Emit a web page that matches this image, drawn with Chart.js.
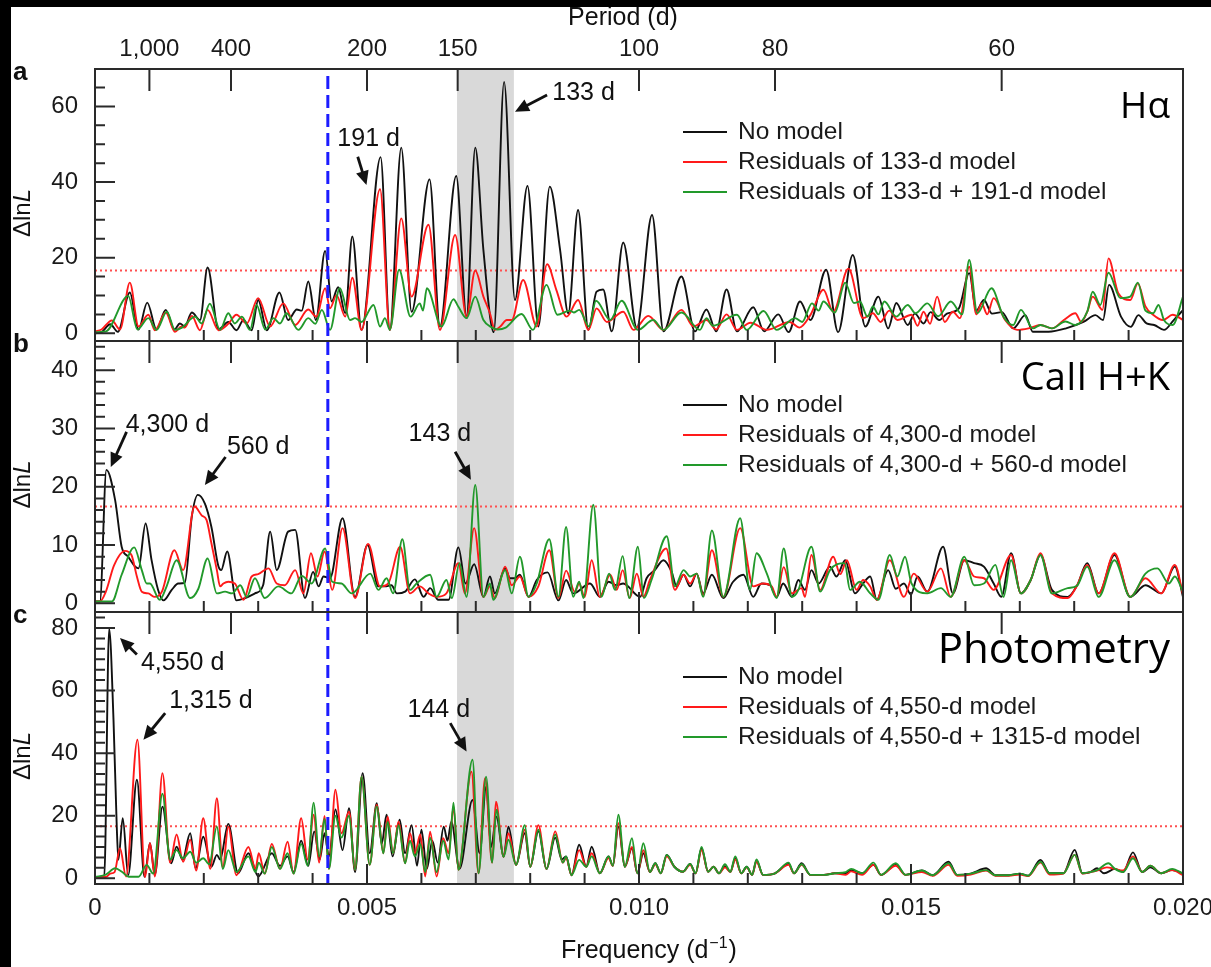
<!DOCTYPE html>
<html>
<head>
<meta charset="utf-8">
<script src="https://cdn.jsdelivr.net/npm/chart.js@4.4.1/dist/chart.umd.min.js"></script>
<style>
  html, body { margin: 0; padding: 0; background: #fff; }
  #page { position: relative; width: 1211px; height: 967px; overflow: hidden; background: #fff; }
  #page canvas { position: absolute; left: 0; top: 0; }
  .bar { position: absolute; background: #000; z-index: 5; }
</style>
</head>
<body>
<div id="page">
  <canvas id="panelA" width="1240" height="967"></canvas>
  <canvas id="panelB" width="1240" height="967"></canvas>
  <canvas id="panelC" width="1240" height="967"></canvas>
  <div class="bar" style="left:0;top:0;width:1211px;height:7px"></div>
  <div class="bar" style="left:0;top:0;width:11px;height:967px"></div>
</div>
<script>
// frequencies are in units of 1e-3 d^-1
const periodTicks = [1000, 400, 200, 150, 100, 80, 60];
const freqTicks = [0, 5, 10, 15, 20];
const freqTickLabels = ['0', '0.005', '0.010', '0.015', '0.020'];
const threshold = 16.6;
const blueLineFreq = 4.28;
const bandFreq = [6.655, 7.70];

// panel a: H-alpha
const haNoModel = [[0,0],[0.12,0.3],[0.28,2.4],[0.42,0.4],[0.64,10.8],[0.8,1],[0.96,8.1],[1.13,1],[1.3,6.2],[1.46,1],[1.56,2.6],[1.65,1.8],[1.78,5.5],[1.93,3.5],[2.07,17.4],[2.27,1],[2.45,3],[2.6,0.8],[2.73,3.5],[2.88,0.8],[3.0,8.8],[3.16,0.8],[3.39,10.8],[3.55,3.5],[3.71,6.3],[3.8,6],[3.92,13.7],[4.06,3.5],[4.23,21.8],[4.35,8.4],[4.47,12.2],[4.6,5.3],[4.73,25.6],[4.9,0.9],[5.25,46.6],[5.42,0.9],[5.63,49.1],[5.82,5.7],[6.15,40.7],[6.34,1.8],[6.64,41.6],[6.83,4.4],[6.99,49.1],[7.14,22],[7.33,0.3],[7.52,66.5],[7.72,8.8],[7.95,39],[8.15,1.8],[8.36,38.8],[8.55,22],[8.7,5.3],[8.88,32.6],[9.07,0.9],[9.22,11],[9.34,11.6],[9.5,0.5],[9.71,24],[9.96,1.5],[10.24,31.3],[10.45,0.5],[10.78,15],[11.03,0.5],[11.24,6.3],[11.42,0.5],[11.61,11.6],[11.8,0.5],[12.1,6.9],[12.3,0.5],[12.56,5],[12.75,0.3],[12.96,8.4],[13.15,3.5],[13.44,16.8],[13.66,0.3],[13.93,20.7],[14.16,1.8],[14.4,9.7],[14.58,1.3],[14.73,8],[14.94,2.2],[15.07,5.2],[15.23,2.6],[15.36,5.6],[15.52,3.5],[15.66,5.2],[15.88,6.6],[16.07,15.9],[16.2,6],[16.34,8.8],[16.49,5.2],[16.67,5.6],[16.88,1.3],[17.1,4.8],[17.24,0.4],[17.53,0.4],[17.85,1.3],[18.17,3],[18.39,4.8],[18.53,3.5],[18.64,12.8],[18.86,4.4],[19.04,1.7],[19.18,4.8],[19.33,2.6],[19.47,2.2],[19.65,0.9],[19.83,3.5],[20,6.1]];
const haRes133 = [[0,0.5],[0.12,1],[0.31,3.4],[0.46,1],[0.64,13.4],[0.8,1.8],[0.98,4.9],[1.1,0.8],[1.3,5.5],[1.47,0.4],[1.59,1.8],[1.65,1.5],[1.78,4.6],[1.93,0.8],[2.07,6.2],[2.27,0.8],[2.45,2.5],[2.6,4.9],[2.79,2.6],[3.0,9.3],[3.22,1.8],[3.46,7.9],[3.68,2.2],[3.92,6.3],[4.07,4.4],[4.23,11.9],[4.32,6.6],[4.44,10.1],[4.6,4.4],[4.73,14.7],[4.9,0.9],[5.24,38.1],[5.42,0.9],[5.63,30.4],[5.82,9.7],[6.13,28.7],[6.34,0.9],[6.62,26],[6.83,4.4],[6.99,16.6],[7.14,9.7],[7.26,5.3],[7.35,0.9],[7.45,1.8],[7.57,3.5],[7.66,3.5],[7.87,14.1],[8.12,1.8],[8.31,18.3],[8.48,11.5],[8.67,4.4],[8.88,8.8],[9.07,0.9],[9.22,6.6],[9.41,3],[9.71,5.7],[9.9,0.9],[10.17,4.6],[10.45,0.9],[10.78,6.2],[11.0,1.8],[11.24,3.5],[11.42,1],[11.61,5],[11.8,0.9],[12.05,2.8],[12.35,0.9],[12.77,3],[12.95,1.5],[13.15,4.8],[13.39,11.5],[13.57,5.7],[13.85,17.1],[14.12,4],[14.3,5.3],[14.44,3],[14.6,6],[14.75,3.5],[15.01,4.9],[15.12,2],[15.23,5.7],[15.35,2.5],[15.48,9.7],[15.62,3],[15.77,5.7],[15.9,4],[16.07,17.6],[16.2,5],[16.3,7.9],[16.4,5],[16.52,9.3],[16.73,3.5],[16.95,0.9],[17.16,1.3],[17.38,2.2],[17.59,1.3],[17.81,3.5],[18.02,5.3],[18.13,3],[18.24,5.7],[18.34,9.7],[18.52,6.2],[18.63,19.8],[18.81,10.6],[19.03,8.8],[19.17,13.2],[19.31,7.1],[19.45,4.9],[19.63,3.5],[19.81,4.9],[20,3.5]];
const haRes133_191 = [[0,0.3],[0.2,0.5],[0.61,9.9],[0.78,1],[0.98,4],[1.13,0.9],[1.32,5.7],[1.47,0.9],[1.6,1.5],[1.84,4.4],[1.96,2.6],[2.11,7.8],[2.3,0.9],[2.45,5.3],[2.57,2.6],[2.7,4.4],[2.85,0.9],[2.97,7.5],[3.13,1],[3.28,4],[3.4,2.6],[3.52,5.3],[3.74,0.9],[3.92,4],[4.05,2.5],[4.17,6.2],[4.32,0.9],[4.5,11.9],[4.69,3.5],[4.78,4],[4.9,3],[5.12,7.5],[5.24,1.8],[5.33,4],[5.42,0.9],[5.59,16.8],[5.8,4.4],[5.97,7.9],[6.03,6],[6.1,11.9],[6.37,1.8],[6.59,9],[6.68,7],[6.83,4],[6.99,9.7],[7.14,3.5],[7.3,1.5],[7.4,1],[7.55,1.5],[7.84,5.1],[8.05,0.9],[8.3,12.8],[8.5,4.9],[8.73,6],[8.8,5.5],[8.9,6.2],[9.08,1.8],[9.21,8.6],[9.47,3.5],[9.68,8.6],[9.98,0.9],[10.26,3.5],[10.45,0.9],[10.78,5.5],[11.12,0.9],[11.24,4],[11.36,2],[11.8,4.9],[11.98,0.9],[12.29,5.9],[12.53,0.9],[12.87,4],[13.0,3],[13.18,7.9],[13.3,6],[13.39,8.4],[13.6,5.5],[13.79,13.4],[13.95,8],[14.06,8.4],[14.2,4.4],[14.3,7.1],[14.4,5],[14.51,8.4],[14.73,4.4],[14.94,7.5],[15.08,5.3],[15.3,7.9],[15.5,4.5],[15.73,8.4],[15.94,5],[16.07,19.4],[16.22,5.3],[16.48,11.9],[16.7,4.4],[16.88,2.2],[17.02,6.2],[17.24,1.3],[17.38,2.2],[17.59,1.3],[17.84,3.1],[18.02,2.2],[18.24,5.7],[18.34,11],[18.48,7.5],[18.63,16],[18.85,9.3],[19.03,9.7],[19.17,13.4],[19.31,6],[19.45,5.3],[19.55,7.5],[19.65,3.5],[19.81,2.2],[20,9.7]];

// panel b: CaII H+K
const caNoModel = [[0,0.3],[0.09,0.3],[0.21,22.9],[0.37,17.7],[0.49,9.7],[0.61,8],[0.74,6.3],[0.8,6],[0.93,13.7],[1.04,7.4],[1.16,2.3],[1.26,0.5],[1.41,2.3],[1.53,3.4],[1.65,3.5],[1.78,14.9],[1.89,18.6],[2.02,17.1],[2.14,13.1],[2.27,6.3],[2.32,5.7],[2.43,8.9],[2.6,0.5],[2.76,0.9],[2.94,1.7],[3.09,3.1],[3.22,12.3],[3.34,5.7],[3.55,12.3],[3.68,12.6],[3.86,0.9],[4.01,5.4],[4.11,2.9],[4.2,4.6],[4.32,4.3],[4.55,14.6],[4.78,1.1],[5.01,10],[5.21,2.9],[5.33,2.9],[5.45,3.1],[5.55,1.7],[5.7,2],[5.88,4.1],[6.04,1.1],[6.16,2.6],[6.31,0.6],[6.5,0.6],[6.68,9.6],[6.81,3.4],[6.97,6.7],[7.14,1.1],[7.26,4.6],[7.35,1.7],[7.54,6],[7.63,4.3],[7.72,4.3],[7.81,4.9],[7.97,1.1],[8.12,4],[8.32,5.3],[8.52,0.5],[8.66,4],[8.79,1.7],[9.1,3.4],[9.28,1.1],[9.44,3.7],[9.59,3.1],[9.71,3.4],[10.02,1.1],[10.14,4.3],[10.29,5.7],[10.45,7.4],[10.6,5.4],[10.69,2.9],[10.82,4.9],[10.94,2.9],[11.06,5.1],[11.18,1.7],[11.34,4.9],[11.55,0.9],[11.73,3.7],[11.92,4.9],[12.1,1.1],[12.25,3.4],[12.41,3.1],[12.53,1.1],[12.65,3.4],[12.81,1.1],[12.93,4],[13.05,2.3],[13.17,5.7],[13.3,3.4],[13.51,6.3],[13.63,4.6],[13.79,7.4],[13.97,1.7],[14.12,3.4],[14.25,4.6],[14.37,0.6],[14.58,5.7],[14.72,2.5],[14.87,3.4],[15.0,1.5],[15.12,4.6],[15.3,2],[15.59,9.7],[15.77,1.7],[15.98,7.4],[16.16,6.9],[16.34,6.3],[16.52,3.4],[16.66,1.1],[16.84,8.6],[17.02,1.7],[17.2,4],[17.38,8.3],[17.59,2.3],[17.88,1.1],[18.05,3],[18.24,6.9],[18.45,1.7],[18.74,8.3],[19.03,1.1],[19.31,3.1],[19.6,1.7],[19.85,6.3],[20,1.1]];
const caRes4300 = [[0,0.3],[0.09,0.3],[0.2,2],[0.35,6.5],[0.55,9],[0.67,8.3],[0.77,4.6],[0.86,2],[0.98,1.7],[1.1,1.1],[1.23,2],[1.46,9.1],[1.62,5.7],[1.83,16.6],[1.96,15.1],[2.05,14.3],[2.14,10.3],[2.24,5.7],[2.3,2.9],[2.36,3.4],[2.45,3.7],[2.57,3.4],[2.73,0.6],[2.88,4.6],[3.0,5],[3.19,6],[3.34,3.4],[3.49,3.1],[3.68,5.7],[3.83,1.7],[3.97,8.6],[4.09,4.6],[4.22,8.9],[4.36,2.3],[4.55,12.9],[4.78,0.9],[5.02,10.2],[5.24,2.9],[5.39,3.4],[5.61,9.7],[5.79,1.7],[5.97,2.9],[6.13,1.7],[6.28,1.1],[6.46,1.7],[6.68,6.9],[6.8,1.7],[6.97,12.9],[7.14,1.1],[7.26,2.9],[7.35,0.9],[7.54,6.3],[7.66,3.1],[7.81,4.6],[7.97,1.1],[8.15,2.9],[8.35,9.1],[8.52,0.9],[8.66,5.6],[8.82,2],[8.9,3.4],[9.0,1.1],[9.13,7.4],[9.28,1.1],[9.47,4.9],[9.59,2.3],[9.7,5.7],[9.83,0.9],[9.96,5.1],[10.08,1.1],[10.2,4],[10.5,9.4],[10.66,2.3],[10.82,4.9],[10.94,3.4],[11.06,5.1],[11.18,1.4],[11.34,9.1],[11.55,1.1],[11.86,12.9],[12.1,2.9],[12.28,3.4],[12.44,2.9],[12.53,1.1],[12.66,6.2],[12.81,1.7],[12.99,2.6],[13.05,1.1],[13.17,8.3],[13.33,2.3],[13.57,8],[13.7,5],[13.82,7.4],[14.0,2.3],[14.12,4],[14.25,2.9],[14.37,0.6],[14.61,7.4],[14.87,1.1],[15.05,5.1],[15.3,2],[15.55,6],[15.73,1.1],[15.98,7.4],[16.16,4.6],[16.34,4.3],[16.52,2.3],[16.84,8.3],[17.02,1.7],[17.2,4],[17.38,8.6],[17.59,1.7],[17.88,0.9],[18.05,3],[18.24,6.6],[18.45,1.7],[18.74,8.6],[19.03,1.1],[19.31,4.3],[19.6,1.7],[19.85,6.6],[20,1.5]];
const caRes4300_560 = [[0,0.3],[0.31,0.3],[0.49,4.9],[0.72,9.6],[0.86,5.7],[0.95,3.4],[1.01,3.4],[1.19,0.6],[1.32,3],[1.5,7.4],[1.75,0.9],[1.9,2.5],[2.07,7.7],[2.24,1.7],[2.39,2],[2.52,1.7],[2.67,3.1],[2.79,1.1],[2.94,4.3],[3.12,0.9],[3.37,2.9],[3.61,1.7],[3.8,4.7],[3.98,3.4],[4.23,9.4],[4.36,3.7],[4.53,3.4],[4.72,1.7],[5.06,5.1],[5.21,2.3],[5.36,4.3],[5.48,1.7],[5.65,11],[5.79,2.3],[5.91,3.4],[6.16,4.9],[6.28,1.1],[6.46,4],[6.56,0.9],[6.7,6.9],[6.83,1.1],[6.99,20.3],[7.14,1.1],[7.26,3.4],[7.32,0.6],[7.54,5.7],[7.66,1.7],[7.81,8],[7.97,1.1],[8.12,3.4],[8.35,11],[8.52,1.1],[8.66,13.1],[8.79,1.1],[8.9,3.7],[8.98,0.9],[9.16,16.9],[9.31,1.1],[9.45,5.1],[9.56,2.3],[9.7,8.1],[9.82,0.9],[9.98,9.7],[10.09,0.9],[10.23,4],[10.51,11.5],[10.66,2.9],[10.82,5.7],[10.94,4.6],[11.06,5.1],[11.18,1.1],[11.34,12.5],[11.55,1.1],[11.86,14.6],[12.04,2.3],[12.16,8.6],[12.35,5.1],[12.53,0.9],[12.66,9.4],[12.81,1.1],[12.93,2.3],[13.17,9.7],[13.33,2],[13.51,5.7],[13.78,6.9],[13.88,2.3],[14.06,3.7],[14.25,1.7],[14.4,0.6],[14.61,8.3],[14.75,4.6],[14.89,8],[15.01,3.4],[15.3,1.7],[15.55,2.6],[15.73,1.1],[15.98,8],[16.16,3.1],[16.34,3.4],[16.55,6.6],[16.7,1.1],[16.84,7.4],[17.02,1.7],[17.2,4],[17.38,8.3],[17.59,1.7],[17.88,2.6],[18.05,3],[18.24,6.3],[18.45,1.1],[18.74,7.4],[19.03,1.1],[19.31,5.1],[19.53,6],[19.74,3.4],[19.85,4.6],[20,2]];

// panel c: photometry
const phNoModel = [[0,0.4],[0.17,0.4],[0.26,79.7],[0.34,50.7],[0.4,16.5],[0.43,5.9],[0.51,19.2],[0.61,1],[0.77,31.5],[0.91,0.5],[1.01,11.2],[1.1,1.1],[1.24,22.9],[1.4,4.8],[1.5,10.1],[1.61,5.9],[1.75,14.4],[1.85,3.2],[1.99,13.3],[2.14,3.7],[2.24,7.5],[2.3,6],[2.45,17.4],[2.63,1.6],[2.82,8],[3.0,0.6],[3.25,8],[3.4,4],[3.54,7],[3.65,2],[3.79,12],[3.92,4],[4.03,15],[4.13,6],[4.22,14.4],[4.3,7],[4.42,22],[4.55,9],[4.67,22.4],[4.78,2],[4.92,33.6],[5.05,8],[5.18,24],[5.27,11],[5.36,20.3],[5.47,7],[5.6,18.7],[5.7,8],[5.82,17],[5.92,4],[6.0,15.5],[6.1,3],[6.2,12],[6.3,5],[6.41,16.5],[6.48,12],[6.55,18.1],[6.7,3],[6.94,25],[7.07,8],[7.19,29.3],[7.28,10],[7.38,19.7],[7.51,6.9],[7.6,16.5],[7.74,4.3],[7.9,14.4],[8.0,3.7],[8.15,15],[8.3,3],[8.46,13],[8.58,6],[8.66,7],[8.76,1],[8.9,10.7],[9.03,3.7],[9.13,10.1],[9.28,1.6],[9.44,7],[9.52,4],[9.62,16.5],[9.74,3.7],[9.87,9.6],[9.97,1.6],[10.08,8],[10.2,2],[10.3,4.8],[10.4,1.6],[10.51,7.5],[10.65,3.7],[10.81,2.1],[10.94,4.6],[11.04,1.6],[11.15,9.6],[11.27,2.1],[11.37,3.7],[11.47,1.6],[11.58,3.9],[11.68,2.1],[11.77,6.4],[11.88,1.6],[11.98,3.7],[12.08,1.1],[12.16,5.7],[12.28,1.1],[12.5,1.6],[12.75,4.6],[12.85,1.6],[12.99,4.8],[13.15,1.1],[13.4,1.1],[13.6,1.6],[13.8,1.6],[13.9,2.6],[14.1,1.6],[14.31,4.3],[14.45,1.1],[14.72,4.3],[14.9,1.1],[15.2,2.5],[15.4,1],[15.69,5.3],[15.85,1.1],[16.1,1.5],[16.38,3.2],[16.55,1],[16.8,1],[17.0,1.5],[17.15,0.8],[17.38,5.9],[17.55,1.6],[17.8,1.6],[18.01,9.1],[18.15,1.6],[18.3,2],[18.42,3.2],[18.55,1.6],[18.75,3],[18.9,2],[19.08,8.3],[19.25,2],[19.4,3.5],[19.6,1.6],[19.8,2.6],[20,1.5]];
const phRes4550 = [[0,0.4],[0.2,0.4],[0.28,1.5],[0.36,2],[0.46,9.6],[0.57,0.6],[0.78,44.3],[0.92,0.4],[1.01,11.2],[1.1,0.6],[1.24,33.6],[1.38,5],[1.5,14],[1.62,5.3],[1.75,12.3],[1.86,2.5],[1.99,19.2],[2.12,3],[2.24,25.6],[2.35,3.5],[2.45,16.5],[2.6,1],[2.82,10],[2.95,3],[3.01,8],[3.12,1.5],[3.25,11],[3.4,3],[3.54,11.7],[3.65,1.5],[3.79,19.2],[3.91,6],[4.02,20.3],[4.12,5],[4.22,19.9],[4.3,3],[4.42,28.3],[4.53,14.4],[4.67,21.3],[4.78,2.7],[4.9,32.5],[5.05,4.3],[5.18,23.5],[5.3,8],[5.38,19.7],[5.48,8],[5.58,18.1],[5.7,4.8],[5.79,14.4],[5.88,8],[5.98,14],[6.07,0.6],[6.16,14.9],[6.28,0.6],[6.4,12.8],[6.5,8],[6.59,22.9],[6.68,2.7],[6.92,34.1],[7.05,1.6],[7.17,32],[7.3,5],[7.37,24.5],[7.51,6.9],[7.6,14.4],[7.74,4.3],[7.9,15.5],[8.0,3.7],[8.15,17],[8.3,3],[8.46,15],[8.6,5],[8.66,6.5],[8.76,1],[8.9,9],[9.03,3.7],[9.13,8],[9.28,1.6],[9.44,6.5],[9.52,4],[9.62,17.6],[9.74,3.7],[9.87,10],[9.97,1.6],[10.08,9],[10.2,2],[10.3,4.5],[10.4,1.6],[10.51,7],[10.65,3.7],[10.81,2.1],[10.94,4.3],[11.04,1.6],[11.15,9],[11.27,2.1],[11.37,3.7],[11.47,1.6],[11.58,3.5],[11.68,2.1],[11.77,6],[11.88,1.6],[11.98,3.5],[12.08,1.1],[12.16,5.3],[12.28,1.1],[12.5,1.6],[12.75,4.3],[12.85,1.6],[12.99,4.3],[13.15,1.1],[13.4,1.1],[13.6,1.6],[13.8,1.1],[13.9,2.2],[14.1,1.1],[14.31,4.3],[14.45,1.1],[14.72,4],[14.9,1.1],[15.2,2],[15.4,0.8],[15.69,4.3],[15.85,0.8],[16.1,1.2],[16.38,2.5],[16.55,0.8],[16.8,0.8],[17.0,1.2],[17.15,0.7],[17.38,5],[17.55,1.2],[17.8,1.5],[18.01,7.5],[18.15,1.5],[18.3,2],[18.42,2.5],[18.6,3.5],[18.75,3],[18.9,2.5],[19.08,7],[19.25,2],[19.4,4],[19.6,1.6],[19.8,2.6],[20,1]];
const phRes4550_1315 = [[0,0.4],[0.2,1.2],[0.37,3.2],[0.5,2],[0.62,0.5],[0.8,0.5],[0.95,4.3],[1.07,1.5],[1.24,27],[1.38,6],[1.5,9],[1.62,6.4],[1.75,8.5],[1.86,5],[1.99,6.4],[2.1,4.5],[2.24,16.5],[2.35,3],[2.45,9],[2.6,2],[2.82,7],[2.95,2],[3.01,5],[3.12,1.5],[3.25,10],[3.4,3],[3.54,8],[3.65,1.5],[3.79,11],[3.91,4],[4.02,24.2],[4.12,7],[4.22,19],[4.3,3],[4.42,20],[4.53,13],[4.67,20],[4.78,2.7],[4.9,32.5],[5.05,4.3],[5.18,23],[5.3,8],[5.38,18],[5.48,8],[5.58,17],[5.7,4.8],[5.79,12],[5.88,7],[5.98,11],[6.07,2],[6.16,13],[6.28,2],[6.4,12],[6.5,6],[6.59,24.2],[6.68,2.7],[6.94,37.9],[7.05,1.6],[7.19,32.5],[7.3,5],[7.38,21.9],[7.51,6.9],[7.6,12.3],[7.74,4.3],[7.9,17],[8.0,3.7],[8.15,15.5],[8.3,3],[8.46,14],[8.6,5],[8.66,7],[8.76,1],[8.9,5.9],[9.03,3.7],[9.13,7],[9.28,1.6],[9.44,7],[9.52,4],[9.62,20.3],[9.74,3.7],[9.87,12.8],[9.97,1.6],[10.08,11.2],[10.2,2],[10.3,4.8],[10.4,1.6],[10.51,7.5],[10.65,3.7],[10.81,2.1],[10.94,4.6],[11.04,1.6],[11.15,10],[11.27,2.1],[11.37,3.7],[11.47,1.6],[11.58,4.5],[11.68,2.1],[11.77,7],[11.88,1.6],[11.98,3.7],[12.08,1.1],[12.16,6],[12.28,1.1],[12.5,1.6],[12.75,5],[12.85,1.6],[12.99,4.5],[13.15,1.1],[13.4,1.1],[13.6,1.6],[13.8,2],[13.9,3],[14.1,1.6],[14.31,5],[14.45,1.1],[14.72,4.8],[14.9,1.1],[15.2,2.5],[15.4,1],[15.69,4.8],[15.85,1.1],[16.1,1.5],[16.38,2.6],[16.55,1],[16.8,1],[17.0,1.5],[17.15,0.8],[17.38,5.3],[17.55,1.6],[17.8,1.6],[18.01,7.5],[18.15,1.6],[18.3,2],[18.42,2.6],[18.63,4.8],[18.75,3],[18.9,2],[19.08,6.4],[19.25,2],[19.4,4],[19.6,1.6],[19.8,3],[20,1.5]];

const BLACK = '#111111', RED = '#ff1a1a', GREEN = '#22992b';
const fontFamily = "'Liberation Sans', Arial, Helvetica, sans-serif";
Chart.defaults.font.family = fontFamily;
Chart.defaults.color = '#1a1a1a';

const panels = [
  {
    canvas: 'panelA', letter: 'a', name: 'H\u03b1', nameSize: 37, nameBaseline: 118,
    padTop: 3, padBottom: 626, yMin: -2.04, yMax: 69.9, yMajor: 20, minorN: 4,
    yTicks: [0, 20, 40, 60], legendY: 132, periodAxis: true, freqAxis: false,
    series: [
      { label: 'No model', points: haNoModel, color: BLACK },
      { label: 'Residuals of 133-d model', points: haRes133, color: RED },
      { label: 'Residuals of 133-d + 191-d model', points: haRes133_191, color: GREEN }
    ],
    notes: [
      { text: '191 d', at: [5.03, 51.4], from: [4.83, 46.7], to: [4.99, 39.2] },
      { text: '133 d', at: [8.98, 63.6], from: [8.31, 63], to: [7.72, 58.6] }
    ]
  },
  {
    canvas: 'panelB', letter: 'b', name: 'CaII H+K', nameSize: 38, nameBaseline: 390,
    padTop: 341, padBottom: 355, yMin: -1.49, yMax: 45.0, yMajor: 10, minorN: 5,
    yTicks: [0, 10, 20, 30, 40], legendY: 405, periodAxis: false, freqAxis: false,
    series: [
      { label: 'No model', points: caNoModel, color: BLACK },
      { label: 'Residuals of 4,300-d model', points: caRes4300, color: RED },
      { label: 'Residuals of 4,300-d + 560-d model', points: caRes4300_560, color: GREEN }
    ],
    notes: [
      { text: '4,300 d', at: [1.33, 30.6], from: [0.58, 29.4], to: [0.29, 23.4] },
      { text: '560 d', at: [3.0, 26.8], from: [2.4, 25.1], to: [2.02, 20.3] },
      { text: '143 d', at: [6.34, 29.0], from: [6.62, 26.0], to: [6.91, 21.2] }
    ]
  },
  {
    canvas: 'panelC', letter: 'c', name: 'Photometry', nameSize: 42, nameBaseline: 663,
    padTop: 612, padBottom: 8, yMin: -1.82, yMax: 85.1, yMajor: 20, minorN: 6,
    yTicks: [0, 20, 40, 60, 80], legendY: 677, periodAxis: false, freqAxis: true,
    series: [
      { label: 'No model', points: phNoModel, color: BLACK },
      { label: 'Residuals of 4,550-d model', points: phRes4550, color: RED },
      { label: 'Residuals of 4,550-d + 1315-d model', points: phRes4550_1315, color: GREEN }
    ],
    notes: [
      { text: '4,550 d', at: [1.61, 68.9], from: [0.77, 71.5], to: [0.46, 76.8] },
      { text: '1,315 d', at: [2.13, 56.7], from: [1.29, 52.8], to: [0.89, 44.3] },
      { text: '144 d', at: [6.32, 53.9], from: [6.53, 49.6], to: [6.83, 40.5] }
    ]
  }
];

function drawArrow(ctx, x1, y1, x2, y2) {
  const a = Math.atan2(y2 - y1, x2 - x1);
  const hl = 14, hw = 6.5;
  ctx.lineWidth = 2.8;
  ctx.beginPath();
  ctx.moveTo(x1, y1);
  ctx.lineTo(x2 - hl * 0.8 * Math.cos(a), y2 - hl * 0.8 * Math.sin(a));
  ctx.stroke();
  ctx.beginPath();
  ctx.moveTo(x2, y2);
  ctx.lineTo(x2 - hl * Math.cos(a) + hw * Math.sin(a), y2 - hl * Math.sin(a) - hw * Math.cos(a));
  ctx.lineTo(x2 - hl * Math.cos(a) - hw * Math.sin(a), y2 - hl * Math.sin(a) + hw * Math.cos(a));
  ctx.closePath();
  ctx.fill();
}

function decorations(p) {
  return {
    id: 'decor' + p.letter,
    beforeDatasetsDraw(chart) {
      const { ctx, chartArea: a, scales: { x, y } } = chart;
      ctx.save();
      const b0 = x.getPixelForValue(bandFreq[0]);
      const b1 = x.getPixelForValue(bandFreq[1]);
      ctx.fillStyle = '#d9d9d9';
      ctx.fillRect(b0, a.top, b1 - b0, a.bottom - a.top);
      const ty = y.getPixelForValue(threshold);
      ctx.strokeStyle = '#ff5050';
      ctx.lineWidth = 2;
      ctx.setLineDash([2, 3]);
      ctx.beginPath();
      ctx.moveTo(a.left, ty);
      ctx.lineTo(a.right, ty);
      ctx.stroke();
      ctx.restore();
    },
    afterDatasetsDraw(chart) {
      const { ctx, chartArea: a, scales: { x, y } } = chart;
      ctx.save();

      // blue dashed line, phase kept across panels
      const bx = x.getPixelForValue(blueLineFreq);
      ctx.strokeStyle = '#1c1cff';
      ctx.lineWidth = 3;
      ctx.setLineDash([13, 6]);
      ctx.lineDashOffset = a.top;
      ctx.beginPath();
      ctx.moveTo(bx, a.top);
      ctx.lineTo(bx, a.bottom);
      ctx.stroke();
      ctx.setLineDash([]);

      // frame and inward ticks
      ctx.strokeStyle = '#2a2a2a';
      ctx.lineWidth = 2;
      ctx.strokeRect(a.left, a.top, a.right - a.left, a.bottom - a.top);
      ctx.beginPath();
      const step = p.yMajor / p.minorN;
      for (let k = 0; k * step < p.yMax - 0.5; k++) {
        const ty = y.getPixelForValue(k * step);
        ctx.moveTo(a.left, ty);
        ctx.lineTo(a.left + (k % p.minorN === 0 ? 20 : 10), ty);
      }
      for (let i = 1; i < 20; i++) {
        const tx = x.getPixelForValue(i);
        ctx.moveTo(tx, a.bottom);
        ctx.lineTo(tx, a.bottom - (i % 5 === 0 ? 20 : 11));
      }
      periodTicks.forEach(d => {
        const tx = x.getPixelForValue(1000 / d);
        ctx.moveTo(tx, a.top);
        ctx.lineTo(tx, a.top + 22);
      });
      ctx.stroke();

      // legend
      ctx.font = '24.5px ' + fontFamily;
      ctx.textAlign = 'left';
      ctx.textBaseline = 'middle';
      p.series.forEach((s, i) => {
        const ly = p.legendY + i * 30;
        ctx.strokeStyle = s.color;
        ctx.lineWidth = 2;
        ctx.beginPath();
        ctx.moveTo(683, ly);
        ctx.lineTo(727, ly);
        ctx.stroke();
        ctx.fillStyle = '#1a1a1a';
        ctx.fillText(s.label, 738, ly);
      });

      // panel name
      ctx.font = p.nameSize + "px 'Open Sans', sans-serif";
      ctx.textAlign = 'right';
      ctx.textBaseline = 'alphabetic';
      ctx.fillStyle = '#000';
      ctx.fillText(p.name, 1170, p.nameBaseline);

      // peak notes
      ctx.fillStyle = '#111';
      ctx.strokeStyle = '#111';
      ctx.font = '25px ' + fontFamily;
      ctx.textAlign = 'center';
      ctx.textBaseline = 'middle';
      p.notes.forEach(n => {
        ctx.fillText(n.text, x.getPixelForValue(n.at[0]), y.getPixelForValue(n.at[1]));
        drawArrow(ctx, x.getPixelForValue(n.from[0]), y.getPixelForValue(n.from[1]),
          x.getPixelForValue(n.to[0]), y.getPixelForValue(n.to[1]));
      });

      // panel letter
      ctx.font = 'bold 26px ' + fontFamily;
      ctx.textAlign = 'left';
      ctx.textBaseline = 'alphabetic';
      ctx.fillText(p.letter, 13, a.top + 11);

      // period axis title
      if (p.periodAxis) {
        ctx.font = '25px ' + fontFamily;
        ctx.textAlign = 'center';
        ctx.textBaseline = 'middle';
        ctx.fillText('Period (d)', 623, 18);
      }

      // frequency axis title with superscript
      if (p.freqAxis) {
        const big = '25px ' + fontFamily, small = '16px ' + fontFamily;
        ctx.textAlign = 'left';
        ctx.textBaseline = 'alphabetic';
        ctx.font = big;
        const w1 = ctx.measureText('Frequency (d').width;
        const w3 = ctx.measureText(')').width;
        ctx.font = small;
        const w2 = ctx.measureText('\u22121').width;
        let sx = 648 - (w1 + w2 + w3) / 2;
        ctx.font = big;
        ctx.fillText('Frequency (d', sx, 958);
        ctx.font = small;
        ctx.fillText('\u22121', sx + w1 + 1, 948);
        ctx.font = big;
        ctx.fillText(')', sx + w1 + w2 + 2, 958);
      }

      // y title with italic L
      ctx.translate(23, (a.top + a.bottom) / 2 + 8);
      ctx.rotate(-Math.PI / 2);
      ctx.textBaseline = 'middle';
      ctx.textAlign = 'left';
      ctx.font = '24px ' + fontFamily;
      const wa = ctx.measureText('\u0394ln').width;
      ctx.font = 'italic 24px ' + fontFamily;
      const wb = ctx.measureText('L').width;
      ctx.font = '24px ' + fontFamily;
      ctx.fillText('\u0394ln', -(wa + wb) / 2, 0);
      ctx.font = 'italic 24px ' + fontFamily;
      ctx.fillText('L', -(wa + wb) / 2 + wa, 0);

      ctx.restore();
    }
  };
}

function makePanel(p) {
  const scales = {
    x: {
      type: 'linear', axis: 'x', position: 'bottom', min: 0, max: 20,
      display: p.freqAxis,
      grid: { display: false, drawTicks: false },
      border: { display: false },
      afterBuildTicks: s => { s.ticks = freqTicks.map(v => ({ value: v })); },
      ticks: { padding: 10, autoSkip: false, maxRotation: 0, font: { size: 24 },
        callback: (v, i) => freqTickLabels[i] },
      afterFit: s => { s.height = p.freqAxis ? 75 : 0; }
    },
    y: {
      type: 'linear', axis: 'y', position: 'left', min: p.yMin, max: p.yMax,
      grid: { display: false, drawTicks: false },
      border: { display: false },
      afterBuildTicks: s => { s.ticks = p.yTicks.map(v => ({ value: v })); },
      ticks: { padding: 17, font: { size: 24 }, callback: v => String(v) },
      afterFit: s => { s.width = 85; }
    }
  };
  if (p.periodAxis) {
    scales.xTop = {
      type: 'linear', axis: 'x', position: 'top', min: 0, max: 20,
      grid: { display: false, drawTicks: false },
      border: { display: false },
      afterBuildTicks: s => { s.ticks = periodTicks.map(d => ({ value: 1000 / d })); },
      ticks: { padding: 5, autoSkip: false, maxRotation: 0, font: { size: 24 },
        callback: (v, i) => periodTicks[i].toLocaleString('en-US') },
      afterFit: s => { s.height = 66; }
    };
  }

  new Chart(document.getElementById(p.canvas).getContext('2d'), {
    type: 'line',
    data: {
      datasets: p.series.map((s, i) => ({
        label: s.label,
        data: s.points.map(([f, v]) => ({ x: f, y: v })),
        borderColor: s.color,
        borderWidth: 1.9,
        pointRadius: 0,
        cubicInterpolationMode: 'monotone',
        fill: false,
        order: 3 - i,
        xAxisID: 'x',
        yAxisID: 'y'
      }))
    },
    options: {
      responsive: false,
      animation: false,
      devicePixelRatio: 1,
      layout: { padding: { left: 10, right: 57, top: p.padTop, bottom: p.padBottom } },
      scales: scales,
      plugins: { legend: { display: false }, tooltip: { enabled: false }, title: { display: false } }
    },
    plugins: [decorations(p)]
  });
}

panels.forEach(makePanel);
</script>
</body>
</html>
